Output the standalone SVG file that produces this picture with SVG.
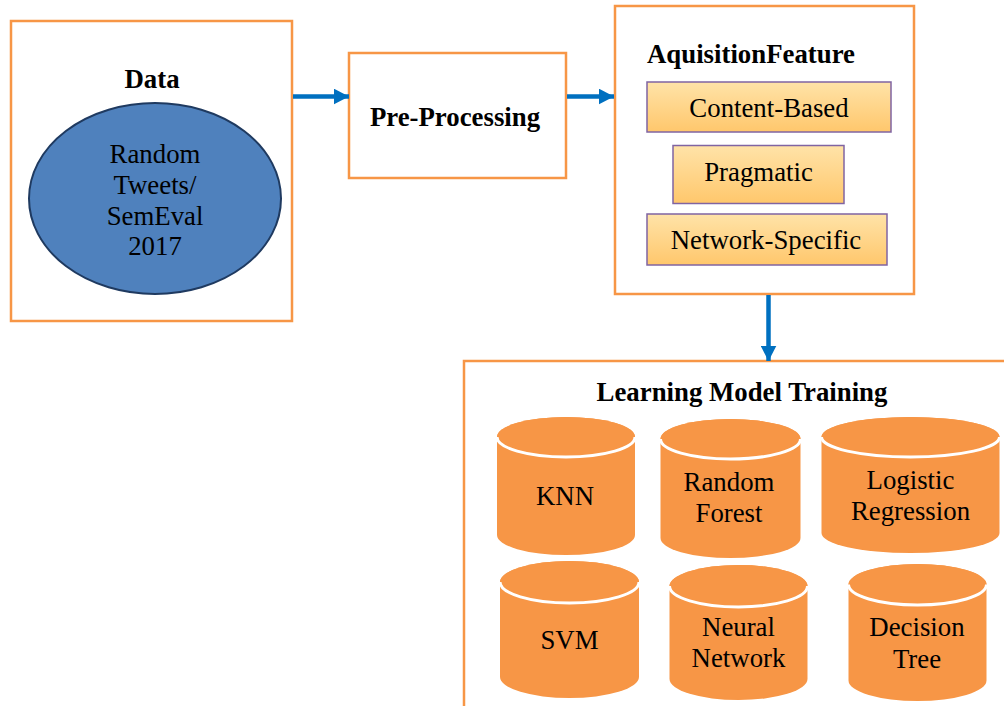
<svg xmlns="http://www.w3.org/2000/svg" width="1004" height="706" viewBox="0 0 1004 706">
  <defs>
    <linearGradient id="featFill" x1="0" y1="0" x2="0" y2="1">
      <stop offset="0" stop-color="#FFE3A8"/>
      <stop offset="1" stop-color="#FFC76C"/>
    </linearGradient>
    <marker id="arrowHead" markerUnits="userSpaceOnUse" markerWidth="16" markerHeight="16" refX="15" refY="8" orient="auto">
      <path d="M0,0.2 L15,8 L0,15.8 Z" fill="#0070C0"/>
    </marker>
    <style>
      .frame { fill: #FFFFFF; stroke: #F79646; stroke-width: 2.5; }
      .title { font-family: "Liberation Serif", "Times New Roman", serif; font-weight: bold; font-size: 26.8px; fill: #000; }
      .label { font-family: "Liberation Serif", "Times New Roman", serif; font-size: 26.8px; fill: #000; text-anchor: middle; }
      .feat { fill: url(#featFill); stroke: #8064A2; stroke-width: 1.5; }
      .can { fill: #F79646; }
      .rim { fill: none; stroke: #FFFFFF; stroke-width: 3; }
      .link { fill: none; stroke: #0070C0; stroke-width: 4.5; marker-end: url(#arrowHead); }
    </style>
  </defs>

  <!-- Data source -->
  <g id="data">
    <rect class="frame" x="11" y="21" width="281" height="300"/>
    <text class="title" x="152" y="88" text-anchor="middle">Data</text>
    <ellipse cx="155" cy="198.5" rx="126" ry="95.5" fill="#4F81BD" stroke="#1F3A60" stroke-width="2"/>
    <text class="label" x="155" y="163">Random</text>
    <text class="label" x="155" y="194">Tweets/</text>
    <text class="label" x="155" y="225">SemEval</text>
    <text class="label" x="155" y="255">2017</text>
  </g>

  <!-- Pre-processing stage -->
  <g id="preprocessing">
    <rect class="frame" x="349" y="53" width="217" height="125"/>
    <text class="title" x="455" y="126" text-anchor="middle">Pre-Processing</text>
  </g>

  <!-- Feature acquisition stage -->
  <g id="features">
    <rect class="frame" x="615" y="6" width="299" height="288"/>
    <text class="title" x="647" y="63">AquisitionFeature</text>
    <g id="content-based">
      <rect class="feat" x="647" y="82" width="244" height="50"/>
      <text class="label" x="769" y="116.5">Content-Based</text>
    </g>
    <g id="pragmatic">
      <rect class="feat" x="673" y="145.5" width="171" height="58"/>
      <text class="label" x="758.5" y="181">Pragmatic</text>
    </g>
    <g id="network-specific">
      <rect class="feat" x="647" y="214" width="240" height="51"/>
      <text class="label" x="766" y="248.5">Network-Specific</text>
    </g>
  </g>

  <!-- Model training stage (frame continues past the page edge) -->
  <g id="training">
    <path class="frame" d="M464,710 V361 H1010" fill="none"/>
    <text class="title" x="742" y="401" text-anchor="middle">Learning Model Training</text>

    <g id="knn">
      <path class="can" d="M497,437 V535 A69,20 0 0 0 635,535 V437 A69,20 0 0 0 497,437 Z"/>
      <ellipse class="can" cx="566" cy="437" rx="69" ry="20"/>
      <path class="rim" d="M497,437 A69,20 0 0 0 635,437"/>
      <text class="label" x="565" y="505">KNN</text>
    </g>
    <g id="random-forest">
      <path class="can" d="M660.5,439 V538 A70,20 0 0 0 800.5,538 V439 A70,20 0 0 0 660.5,439 Z"/>
      <ellipse class="can" cx="730.5" cy="439" rx="70" ry="20"/>
      <path class="rim" d="M660.5,439 A70,20 0 0 0 800.5,439"/>
      <text class="label" x="729" y="491">Random</text>
      <text class="label" x="729" y="522">Forest</text>
    </g>
    <g id="logistic-regression">
      <path class="can" d="M821.5,437 V533 A89,20 0 0 0 999.5,533 V437 A89,20 0 0 0 821.5,437 Z"/>
      <ellipse class="can" cx="910.5" cy="437" rx="89" ry="20"/>
      <path class="rim" d="M821.5,437 A89,20 0 0 0 999.5,437"/>
      <text class="label" x="910.5" y="488.5">Logistic</text>
      <text class="label" x="910.5" y="520">Regression</text>
    </g>
    <g id="svm">
      <path class="can" d="M500,582 V677 A69.5,21 0 0 0 639,677 V582 A69.5,21 0 0 0 500,582 Z"/>
      <ellipse class="can" cx="569.5" cy="582" rx="69.5" ry="21"/>
      <path class="rim" d="M500,582 A69.5,21 0 0 0 639,582"/>
      <text class="label" x="569.5" y="648.5">SVM</text>
    </g>
    <g id="neural-network">
      <path class="can" d="M669.5,586 V679 A69,21 0 0 0 807.5,679 V586 A69,21 0 0 0 669.5,586 Z"/>
      <ellipse class="can" cx="738.5" cy="586" rx="69" ry="21"/>
      <path class="rim" d="M669.5,586 A69,21 0 0 0 807.5,586"/>
      <text class="label" x="738.5" y="636">Neural</text>
      <text class="label" x="738.5" y="667">Network</text>
    </g>
    <g id="decision-tree">
      <path class="can" d="M848.5,584.5 V680.5 A69,20.5 0 0 0 986.5,680.5 V584.5 A69,20.5 0 0 0 848.5,584.5 Z"/>
      <ellipse class="can" cx="917.5" cy="584.5" rx="69" ry="20.5"/>
      <path class="rim" d="M848.5,584.5 A69,20.5 0 0 0 986.5,584.5"/>
      <text class="label" x="917" y="636">Decision</text>
      <text class="label" x="917" y="667.5">Tree</text>
    </g>
  </g>

  <!-- Flow between stages -->
  <g id="connectors">
    <path class="link" d="M293,96.5 H349"/>
    <path class="link" d="M567,96.5 H614"/>
    <path class="link" d="M768.5,295 V361"/>
  </g>
</svg>
